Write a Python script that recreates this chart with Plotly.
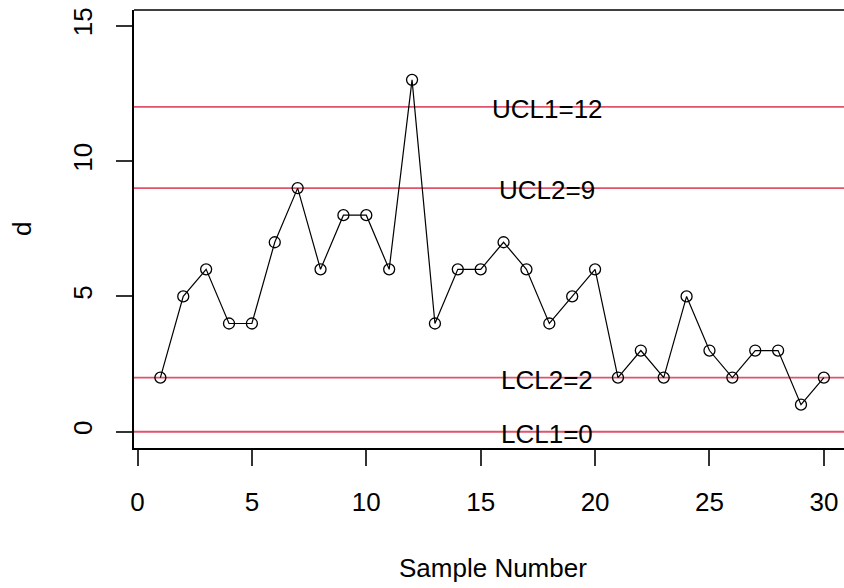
import plotly.graph_objects as go

sample = list(range(1, 31))
d = [2, 5, 6, 4, 4, 7, 9, 6, 8, 8, 6, 13, 4, 6, 6, 7, 6, 4, 5, 6,
     2, 3, 2, 5, 3, 2, 3, 3, 1, 2]
limit_names = ["UCL1=12", "UCL2=9", "LCL2=2", "LCL1=0"]
limit_values = [12, 9, 2, 0]
label_x = 17.92

FONT = "Liberation Sans, Arial, sans-serif"
RED = "#DF536B"

fig = go.Figure()
fig.add_trace(go.Scatter(
    x=sample, y=d, mode="lines+markers",
    line=dict(color="black", width=1.2),
    marker=dict(symbol="circle-open", size=11, color="black", line=dict(width=1.3)),
    showlegend=False, cliponaxis=False,
))

for name, v in zip(limit_names, limit_values):
    fig.add_shape(type="line", xref="paper", x0=0, x1=1, yref="y", y0=v, y1=v,
                  line=dict(color=RED, width=1.8), layer="below")
    fig.add_annotation(x=label_x, y=v, xref="x", yref="y", text=name, showarrow=False,
                       xanchor="center", yanchor="middle", yshift=-2,
                       font=dict(family=FONT, size=26, color="black"))

# top border of box (right border is clipped in reference)
fig.add_shape(type="line", xref="paper", yref="paper", x0=0, x1=1, y0=1, y1=1,
              line=dict(color="black", width=1.5))

# axis titles
fig.add_annotation(xref="paper", yref="paper", x=(493 - 134) / 710, y=0, yshift=-120,
                   text="Sample Number", showarrow=False, xanchor="center", yanchor="middle",
                   font=dict(family=FONT, size=26, color="black"))
fig.add_annotation(xref="paper", yref="paper", x=0, y=0.5, xshift=-112,
                   text="d", showarrow=False, textangle=-90, xanchor="center", yanchor="middle",
                   font=dict(family=FONT, size=26, color="black"))

fig.update_layout(
    width=844, height=588,
    margin=dict(l=134, r=0, t=10, b=140),
    plot_bgcolor="white", paper_bgcolor="white",
    font=dict(family=FONT, size=26, color="black"),
)
fig.update_xaxes(
    range=[-0.153, 30.88], tickvals=[0, 5, 10, 15, 20, 25, 30],
    showgrid=False, zeroline=False, showline=True, linecolor="black", linewidth=1.5,
    ticks="outside", ticklen=16, tickwidth=1.5, tickcolor="#333",
    ticklabelstandoff=14, tickfont=dict(family=FONT, size=26, color="black"),
)
fig.update_yaxes(
    range=[-0.6, 15.58], tickvals=[0, 5, 10, 15],
    showgrid=False, zeroline=False, showline=True, linecolor="black", linewidth=1.5,
    ticks="outside", ticklen=16, tickwidth=1.5, tickcolor="#333", tickangle=-90,
    ticklabelstandoff=14, tickfont=dict(family=FONT, size=26, color="black"),
)

fig.write_html("out.html")
